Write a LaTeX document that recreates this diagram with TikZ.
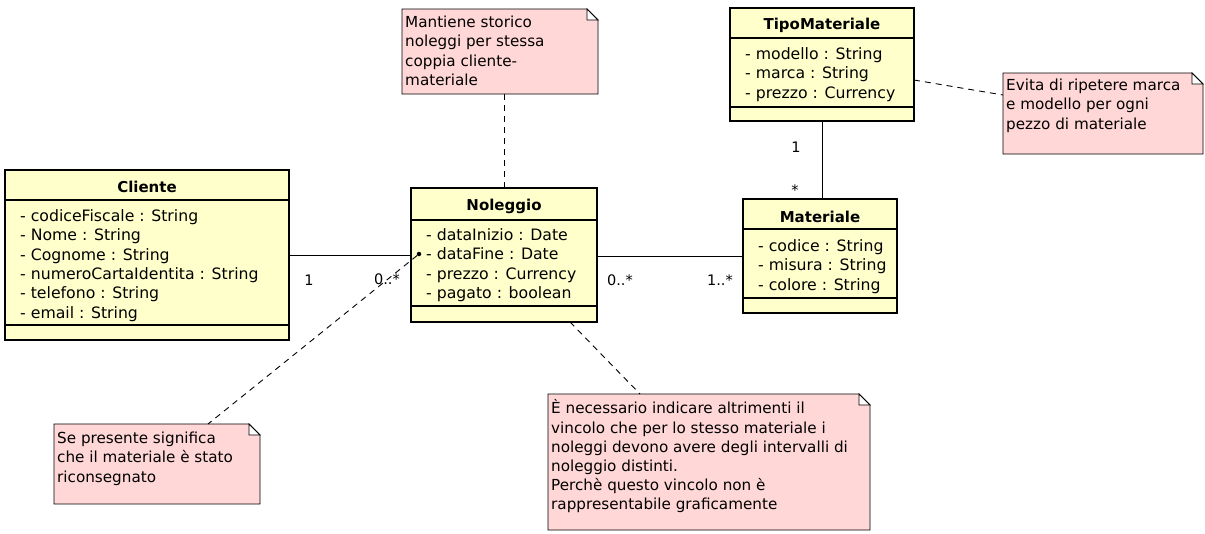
\documentclass[tikz,border=0pt]{standalone}
\usepackage{fontspec}
\setmainfont{DejaVu Sans}
\usetikzlibrary{calc}
\definecolor{clsfill}{RGB}{255,255,204}
\definecolor{notefill}{RGB}{255,215,215}
\tikzset{
  clsbox/.style={draw=black, line width=2.6pt, fill=clsfill, inner sep=0pt, outer sep=0pt, anchor=north west},
  clstitle/.style={font=\fontsize{15}{19.2}\selectfont\bfseries, inner sep=0pt, anchor=base},
  attr/.style={font=\fontsize{15.7}{19.3}\selectfont, align=left, inner sep=0pt, anchor=north west},
  sepline/.style={line width=1.3pt},
  assoc/.style={line width=0.9pt},
  mult/.style={font=\fontsize{14.5}{16}\selectfont, inner sep=0pt},
  notebox/.style={inner sep=0pt, outer sep=0pt, anchor=north west},
  notetext/.style={font=\fontsize{15.2}{19.2}\selectfont, align=left, inner sep=0pt, anchor=north west},
  notelink/.style={line width=0.9pt, dash pattern=on 6pt off 5pt},
  noteline/.style={line width=0.9pt},
}
\newcommand\drawnote[1]{%
  \filldraw[fill=notefill, noteline] (#1.north west) -- ($(#1.north east)+(-11,0)$) -- ($(#1.north east)+(0,11)$) -- (#1.south east) -- (#1.south west) -- cycle;
  \filldraw[fill=white, noteline] ($(#1.north east)+(-11,0)$) -- ($(#1.north east)+(-11,11)$) -- ($(#1.north east)+(0,11)$) -- cycle;
}
\begin{document}
\begin{tikzpicture}[x=1pt,y=-1pt]
\fill[white] (0,0) rectangle (1205,533);
\useasboundingbox (0,0) rectangle (1205,533);

% ---------- Cliente
\node[clsbox, minimum width=284, minimum height=170] (cliente) at (5,170) {};
\draw[sepline] ($(cliente.north west)+(0,30)$) -- ($(cliente.north east)+(0,30)$);
\draw[sepline] ($(cliente.north west)+(0,155)$) -- ($(cliente.north east)+(0,155)$);
\node[clstitle] (clienteT) at (147,192.5) {Cliente};
\node[attr] (clienteA) at (20,209.5) {- codiceFiscale : String\\- Nome : String\\- Cognome : String\\- numeroCartaIdentita : String\\- telefono : String\\- email : String};

% ---------- Noleggio
\node[clsbox, minimum width=186, minimum height=134] (noleggio) at (411,188) {};
\draw[sepline] ($(noleggio.north west)+(0,32)$) -- ($(noleggio.north east)+(0,32)$);
\draw[sepline] ($(noleggio.north west)+(0,118)$) -- ($(noleggio.north east)+(0,118)$);
\node[clstitle] (noleggioT) at (504,210.5) {Noleggio};
\node[attr] (noleggioA) at (426,228.5) {- dataInizio : Date\\- dataFine : Date\\- prezzo : Currency\\- pagato : boolean};

% ---------- Materiale
\node[clsbox, minimum width=154, minimum height=114] (materiale) at (743,199) {};
\draw[sepline] ($(materiale.north west)+(0,30)$) -- ($(materiale.north east)+(0,30)$);
\draw[sepline] ($(materiale.north west)+(0,99)$) -- ($(materiale.north east)+(0,99)$);
\node[clstitle] (materialeT) at (820,222) {Materiale};
\node[attr] (materialeA) at (758,239.5) {- codice : String\\- misura : String\\- colore : String};

% ---------- TipoMateriale
\node[clsbox, minimum width=184, minimum height=113] (tipo) at (730,8) {};
\draw[sepline] ($(tipo.north west)+(0,30)$) -- ($(tipo.north east)+(0,30)$);
\draw[sepline] ($(tipo.north west)+(0,99)$) -- ($(tipo.north east)+(0,99)$);
\node[clstitle] (tipoT) at (822,29.5) {TipoMateriale};
\node[attr] (tipoA) at (745,47.5) {- modello : String\\- marca : String\\- prezzo : Currency};

% ---------- associations
\draw[assoc] (cliente.east) -- (cliente.east -| noleggio.west);
\draw[assoc] (materiale.west) -- (materiale.west -| noleggio.east);
\draw[assoc] (tipo.south) -- (tipo.south |- materiale.north);
\node[mult] (m1) at (309,280) {1};
\node[mult] (m2) at (387,279) {0..*};
\node[mult] (m3) at (620,280) {0..*};
\node[mult] (m4) at (720,280) {1..*};
\node[mult] (m5) at (796,147) {1};
\node[mult] (m6) at (795,190) {*};

\node[circle, fill=black, inner sep=0pt, minimum size=4.5pt] (dot) at (419,254) {};

% ---------- notes
\node[notebox, minimum width=196, minimum height=85] (mnote) at (402,9) {};
\drawnote{mnote}
\node[notetext] (mnoteT) at (405,16) {Mantiene storico\\noleggi per stessa\\coppia cliente-\\materiale};

\node[notebox, minimum width=200, minimum height=81] (evita) at (1003,73) {};
\drawnote{evita}
\node[notetext] (evitaT) at (1006,79) {Evita di ripetere marca\\e modello per ogni\\pezzo di materiale};

\node[notebox, minimum width=206, minimum height=80] (sepres) at (54,424) {};
\drawnote{sepres}
\node[notetext] (sepresT) at (57,432) {Se presente significa\\che il materiale è stato\\riconsegnato};

\node[notebox, minimum width=322, minimum height=136] (enote) at (548,394) {};
\drawnote{enote}
\node[notetext] (enoteT) at (551,399.5) {È necessario indicare altrimenti il\\vincolo che per lo stesso materiale i\\noleggi devono avere degli intervalli di\\noleggio distinti.\\Perchè questo vincolo non è\\rappresentabile graficamente};

% ---------- note links
\draw[notelink] (noleggio.north) -- (noleggio.north |- mnote.south);
\draw[notelink] ($(tipo.north east)+(0,72)$) -- ($(evita.north west)+(0,22)$);
\draw[notelink] (dot) -- ($(sepres.north west)+(154,0)$);
\draw[notelink] ($(noleggio.south)+(66,0)$) -- ($(enote.north west)+(92,0)$);
\end{tikzpicture}
\end{document}
